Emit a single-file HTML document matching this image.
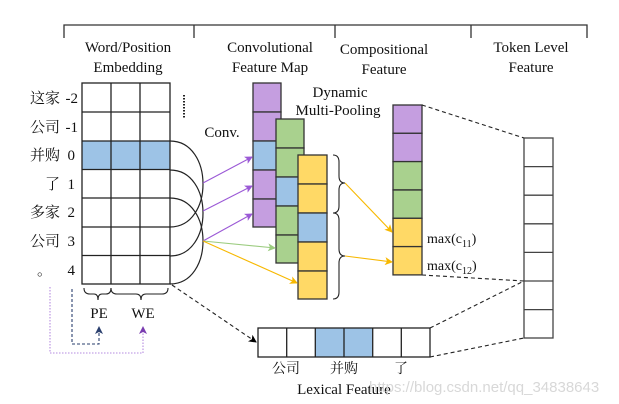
<!DOCTYPE html>
<html><head><meta charset="utf-8"><style>
html,body{margin:0;padding:0;background:#fff;}
svg{display:block;}
text{font-family:"Liberation Serif","Noto Serif CJK SC",serif;fill:#111;}
.cj{font-family:"Liberation Serif","Noto Serif CJK SC","Noto Sans CJK SC",serif;}
</style></head><body>
<svg width="619" height="404" viewBox="0 0 619 404" xmlns="http://www.w3.org/2000/svg">
<defs>
<marker id="ap" markerWidth="8" markerHeight="8" refX="7" refY="4" orient="auto" markerUnits="userSpaceOnUse"><path d="M0,0 L8,4 L0,8 L2,4z" fill="#9b59d6"/></marker>
<marker id="ag" markerWidth="8" markerHeight="8" refX="7" refY="4" orient="auto" markerUnits="userSpaceOnUse"><path d="M0,0 L8,4 L0,8 L2,4z" fill="#9ccc80"/></marker>
<marker id="ay" markerWidth="8" markerHeight="8" refX="7" refY="4" orient="auto" markerUnits="userSpaceOnUse"><path d="M0,0 L8,4 L0,8 L2,4z" fill="#f7b800"/></marker>
<marker id="ak" markerWidth="8" markerHeight="8" refX="7" refY="4" orient="auto" markerUnits="userSpaceOnUse"><path d="M0,0 L8,4 L0,8 L2,4z" fill="#000"/></marker>
<marker id="ab" markerWidth="8" markerHeight="8" refX="7" refY="4" orient="auto" markerUnits="userSpaceOnUse"><path d="M0,0 L8,4 L0,8 L2,4z" fill="#2a3f6e"/></marker>
<marker id="av" markerWidth="8" markerHeight="8" refX="7" refY="4" orient="auto" markerUnits="userSpaceOnUse"><path d="M0,0 L8,4 L0,8 L2,4z" fill="#7a3cb0"/></marker>
</defs>
<!-- top bracket -->
<g stroke="#333" stroke-width="1.3" fill="none">
<path d="M64,38 V25 H587 V38 M194,25 V38 M335,25 V38 M471,25 V38"/>
</g>
<g font-size="15" text-anchor="middle">
<text x="128" y="52">Word/Position</text><text x="128" y="72">Embedding</text>
<text x="270" y="52">Convolutional</text><text x="270" y="72">Feature Map</text>
<text x="384" y="54">Compositional</text><text x="384" y="74">Feature</text>
<text x="531" y="52">Token Level</text><text x="531" y="72">Feature</text>
<text x="340" y="97">Dynamic</text><text x="338" y="115">Multi-Pooling</text>
<text x="222" y="137">Conv.</text>
</g>
<!-- left labels -->
<g font-size="15" text-anchor="end" class="cj">
<text x="60" y="103" class="cj">这家</text><text x="60" y="132" class="cj">公司</text><text x="60" y="160" class="cj">并购</text>
<text x="60" y="189" class="cj">了</text><text x="60" y="217" class="cj">多家</text><text x="60" y="246" class="cj">公司</text><text x="52" y="275" class="cj">。</text>
</g>
<g font-size="15" text-anchor="end">
<text x="78" y="103">-2</text><text x="78" y="132">-1</text><text x="75" y="160">0</text><text x="75" y="189">1</text><text x="75" y="217">2</text><text x="75" y="246">3</text><text x="75" y="275">4</text>
</g>
<!-- grid -->
<rect x="82" y="141" width="88" height="28.6" fill="#9dc3e6"/>
<g stroke="#222" stroke-width="1.3" fill="none">
<rect x="82" y="83" width="88" height="201"/>
<path d="M111,83V284M140,83V284M82,112H170M82,141H170M82,169.5H170M82,198H170M82,227H170M82,255.5H170"/>
</g>
<path d="M184,95V118" stroke="#222" stroke-width="2" stroke-dasharray="1.5,1.5"/>
<!-- arcs -->
<g stroke="#222" stroke-width="1.2" fill="none">
<path d="M170,141 C214,141 214,227 170,227"/>
<path d="M170,170 C214,170 214,256 170,256"/>
<path d="M170,198 C214,198 214,284 170,284"/>
</g>
<!-- conv feature map columns -->
<g stroke="#333" stroke-width="1.3">
<rect x="253" y="83" width="28" height="29" fill="#c59ee0"/><rect x="253" y="112" width="28" height="29" fill="#c59ee0"/><rect x="253" y="141" width="28" height="29" fill="#9dc3e6"/><rect x="253" y="170" width="28" height="29" fill="#c59ee0"/><rect x="253" y="199" width="28" height="28" fill="#c59ee0"/>
<rect x="276" y="119" width="28" height="29" fill="#a9d18e"/><rect x="276" y="148" width="28" height="29" fill="#a9d18e"/><rect x="276" y="177" width="28" height="29" fill="#9dc3e6"/><rect x="276" y="206" width="28" height="29" fill="#a9d18e"/><rect x="276" y="235" width="28" height="28" fill="#a9d18e"/>
<rect x="298" y="155" width="29" height="29" fill="#ffd966"/><rect x="298" y="184" width="29" height="29" fill="#ffd966"/><rect x="298" y="213" width="29" height="29" fill="#9dc3e6"/><rect x="298" y="242" width="29" height="29" fill="#ffd966"/><rect x="298" y="271" width="29" height="28" fill="#ffd966"/>
<!-- compositional -->
<rect x="393" y="105" width="29" height="28.3" fill="#c59ee0"/><rect x="393" y="133.3" width="29" height="28.3" fill="#c59ee0"/><rect x="393" y="161.6" width="29" height="28.3" fill="#a9d18e"/><rect x="393" y="190" width="29" height="28.3" fill="#a9d18e"/><rect x="393" y="218.3" width="29" height="28.3" fill="#ffd966"/><rect x="393" y="246.6" width="29" height="28.3" fill="#ffd966"/>
</g>
<!-- token level -->
<g stroke="#444" stroke-width="1.3" fill="#fff">
<rect x="524" y="138" width="29" height="200"/>
<path d="M524,166.6H553M524,195.2H553M524,223.8H553M524,252.4H553M524,281H553M524,309.6H553" fill="none"/>
</g>
<!-- lexical -->
<rect x="315" y="328" width="57" height="29" fill="#9dc3e6"/>
<g stroke="#222" stroke-width="1.3" fill="none">
<rect x="258" y="328" width="172" height="29"/>
<path d="M286.7,328V357M315.3,328V357M344,328V357M372.7,328V357M401.3,328V357"/>
</g>
<g font-size="14" text-anchor="middle" class="cj">
<text x="286" y="373" class="cj">公司</text><text x="344" y="373" class="cj">并购</text><text x="401" y="373" class="cj">了</text>
</g>
<text x="344" y="394" font-size="15" text-anchor="middle">Lexical Feature</text>
<!-- arrows -->
<g stroke-width="1.1" fill="none">
<path d="M203,183 L252,157" stroke="#9b59d6" marker-end="url(#ap)"/>
<path d="M203,211 L252,186" stroke="#9b59d6" marker-end="url(#ap)"/>
<path d="M203,241 L252,214" stroke="#9b59d6" marker-end="url(#ap)"/>
<path d="M203,241 L275,248" stroke="#9ccc80" marker-end="url(#ag)"/>
<path d="M203,241 L297,283" stroke="#f7b800" marker-end="url(#ay)"/>
<path d="M345,183 L392,232" stroke="#f7b800" marker-end="url(#ay)"/>
<path d="M345,256 L392,262" stroke="#f7b800" marker-end="url(#ay)"/>
</g>
<!-- braces right -->
<g stroke="#222" stroke-width="1.1" fill="none">
<path d="M333,155 Q339,155 339,162 V176 Q339,183 345,183 Q339,183 339,190 V206 Q339,213 333,213"/>
<path d="M333,213 Q339,213 339,220 V249 Q339,256 345,256 Q339,256 339,263 V292 Q339,299 333,299"/>
<!-- braces under grid -->
<path d="M84,288 Q84,294 90,294 H94 Q98,294 98,300 Q98,294 102,294 H106 Q111,294 111,288"/>
<path d="M111,288 Q111,294 117,294 H136 Q141,294 141,300 Q141,294 146,294 H162 Q168,294 168,288"/>
</g>
<text x="99" y="318" font-size="15" text-anchor="middle">PE</text>
<text x="143" y="318" font-size="15" text-anchor="middle">WE</text>
<path d="M72,289 V344 H99 V327" stroke="#2a3f6e" stroke-width="1.1" stroke-dasharray="3,2" fill="none" marker-end="url(#ab)"/>
<path d="M50,287 V353 H143 V327" stroke="#b58be0" stroke-width="1.1" stroke-dasharray="1.5,1.5" fill="none" marker-end="url(#av)"/>
<!-- dashed connectors -->
<g stroke="#222" stroke-width="1.1" stroke-dasharray="4,3" fill="none">
<path d="M422,105 L524,138"/><path d="M422,275 L524,281"/><path d="M430,328 L524,281"/><path d="M430,357 L524,338"/>
<path d="M172,285 L256,342" marker-end="url(#ak)"/>
</g>
<g font-size="14" font-style="normal">
<text x="427" y="243">max(c<tspan font-size="10" dy="4">11</tspan><tspan dy="-4">)</tspan></text>
<text x="427" y="270">max(c<tspan font-size="10" dy="4">12</tspan><tspan dy="-4">)</tspan></text>
</g>
<text x="369" y="392" font-size="15" style="font-family:'Liberation Sans',sans-serif;fill:#d8d8d8;">https://blog.csdn.net/qq_34838643</text>
</svg>
</body></html>
